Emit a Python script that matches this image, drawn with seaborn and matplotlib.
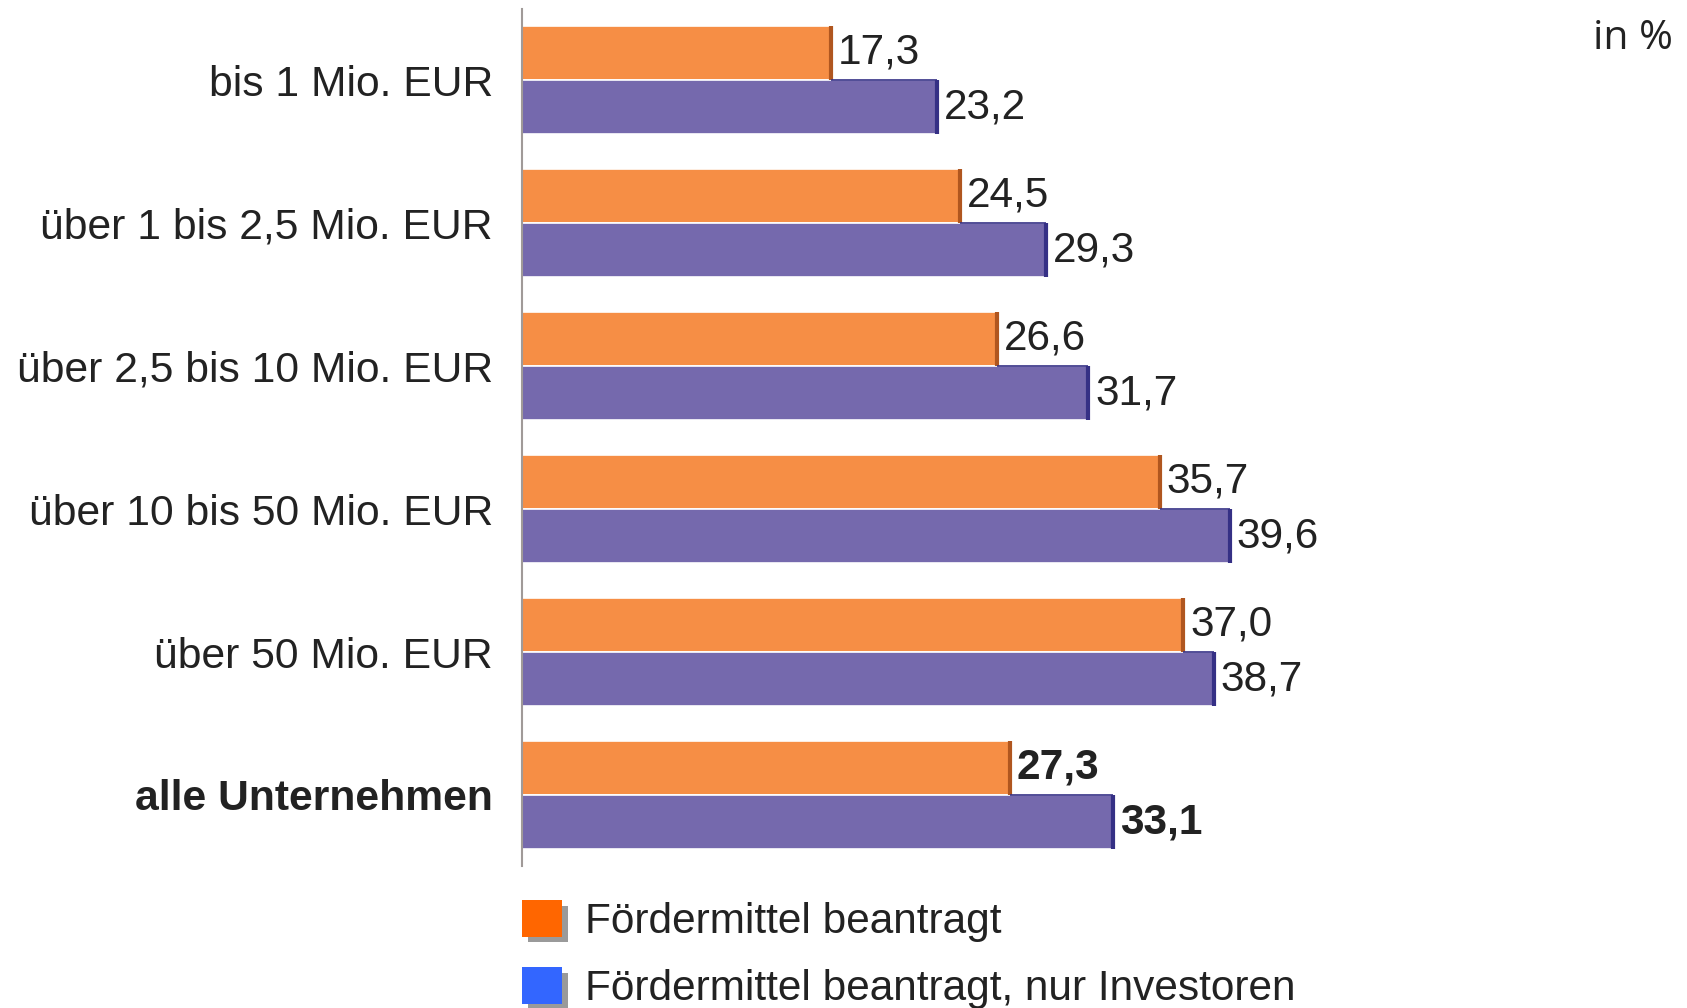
import pandas as pd
import matplotlib.pyplot as plt
import matplotlib.patheffects as pe
from matplotlib.patches import Patch
import seaborn as sns

categories = [
    "bis 1 Mio. EUR",
    "über 1 bis 2,5 Mio. EUR",
    "über 2,5 bis 10 Mio. EUR",
    "über 10 bis 50 Mio. EUR",
    "über 50 Mio. EUR",
    "alle Unternehmen",
]
series_names = ["Fördermittel beantragt", "Fördermittel beantragt, nur Investoren"]
beantragt = [17.3, 24.5, 26.6, 35.7, 37.0, 27.3]
investoren = [23.2, 29.3, 31.7, 39.6, 38.7, 33.1]

bar_colors = ["#F68E45", "#7569AD"]
edge_colors = ["#B0561F", "#353085"]
legend_colors = ["#FF6600", "#3366FF"]

df = pd.DataFrame({
    "Kategorie": categories * 2,
    "Serie": [series_names[0]] * len(categories) + [series_names[1]] * len(categories),
    "Wert": beantragt + investoren,
})

sns.set_style("white")
plt.rcParams["font.family"] = ["Liberation Sans", "DejaVu Sans"]

fig = plt.figure(figsize=(16.87, 10.08), dpi=100)
ax = fig.add_axes([0.3094, 0.1404, 0.6356, 0.851])

sns.barplot(
    data=df, x="Wert", y="Kategorie", hue="Serie",
    palette=bar_colors, saturation=1, orient="h", width=0.76,
    edgecolor="white", linewidth=1.2, legend=False, ax=ax,
)
ax.set_xlim(0, 60)
ax.set_ylim(len(categories) - 0.5, -0.5)

# darker right edge of each bar (3D look)
for cont, ec in zip(ax.containers, edge_colors):
    for bar in cont:
        x_end = bar.get_x() + bar.get_width()
        ax.vlines(x_end, bar.get_y(), bar.get_y() + bar.get_height(),
                  color=ec, linewidth=3, zorder=3)

# thin top edge of the purple bar beyond the orange one
for b_or, b_pu in zip(ax.containers[0], ax.containers[1]):
    x0 = b_or.get_width()
    x1 = b_pu.get_width()
    if x1 > x0:
        ax.hlines(b_pu.get_y(), x0, x1, color=edge_colors[1], linewidth=1.2, zorder=3)

# value labels
for i, cont in enumerate(ax.containers):
    vals = beantragt if i == 0 else investoren
    texts = ax.bar_label(cont, labels=[f"{v:.1f}".replace(".", ",") for v in vals],
                         padding=5, fontsize=30.5, color="#222222")
    texts[-1].set_fontweight("bold")

ax.set_xlabel("")
ax.set_ylabel("")
ax.set_xticks([])
ax.tick_params(axis="y", length=0, pad=21, labelsize=30.7, labelcolor="#222222")
for lbl in ax.get_yticklabels():
    if lbl.get_text() == "alle Unternehmen":
        lbl.set_fontweight("bold")

for s in ["top", "right", "bottom"]:
    ax.spines[s].set_visible(False)
ax.spines["left"].set_color("#A09A98")
ax.spines["left"].set_linewidth(1.5)

shadow = [pe.SimplePatchShadow(offset=(4, -4), shadow_rgbFace="#9A9A9A", alpha=1), pe.Normal()]
handles = [Patch(facecolor=c, edgecolor="none", label=n, path_effects=shadow)
           for c, n in zip(legend_colors, series_names)]
fig.legend(handles=handles, loc="upper left", bbox_to_anchor=(0.3094, 0.107),
           frameon=False, fontsize=30.5, handlelength=0.95, handleheight=0.95,
           handletextpad=0.55, labelspacing=0.6, borderaxespad=0, borderpad=0,
           labelcolor="#222222")

fig.text(0.9915, 0.962, "in %", ha="right", va="center", fontsize=29.5,
         color="#222222", family=["Open Sans", "DejaVu Sans"])

fig.savefig("out.png", dpi=100)
